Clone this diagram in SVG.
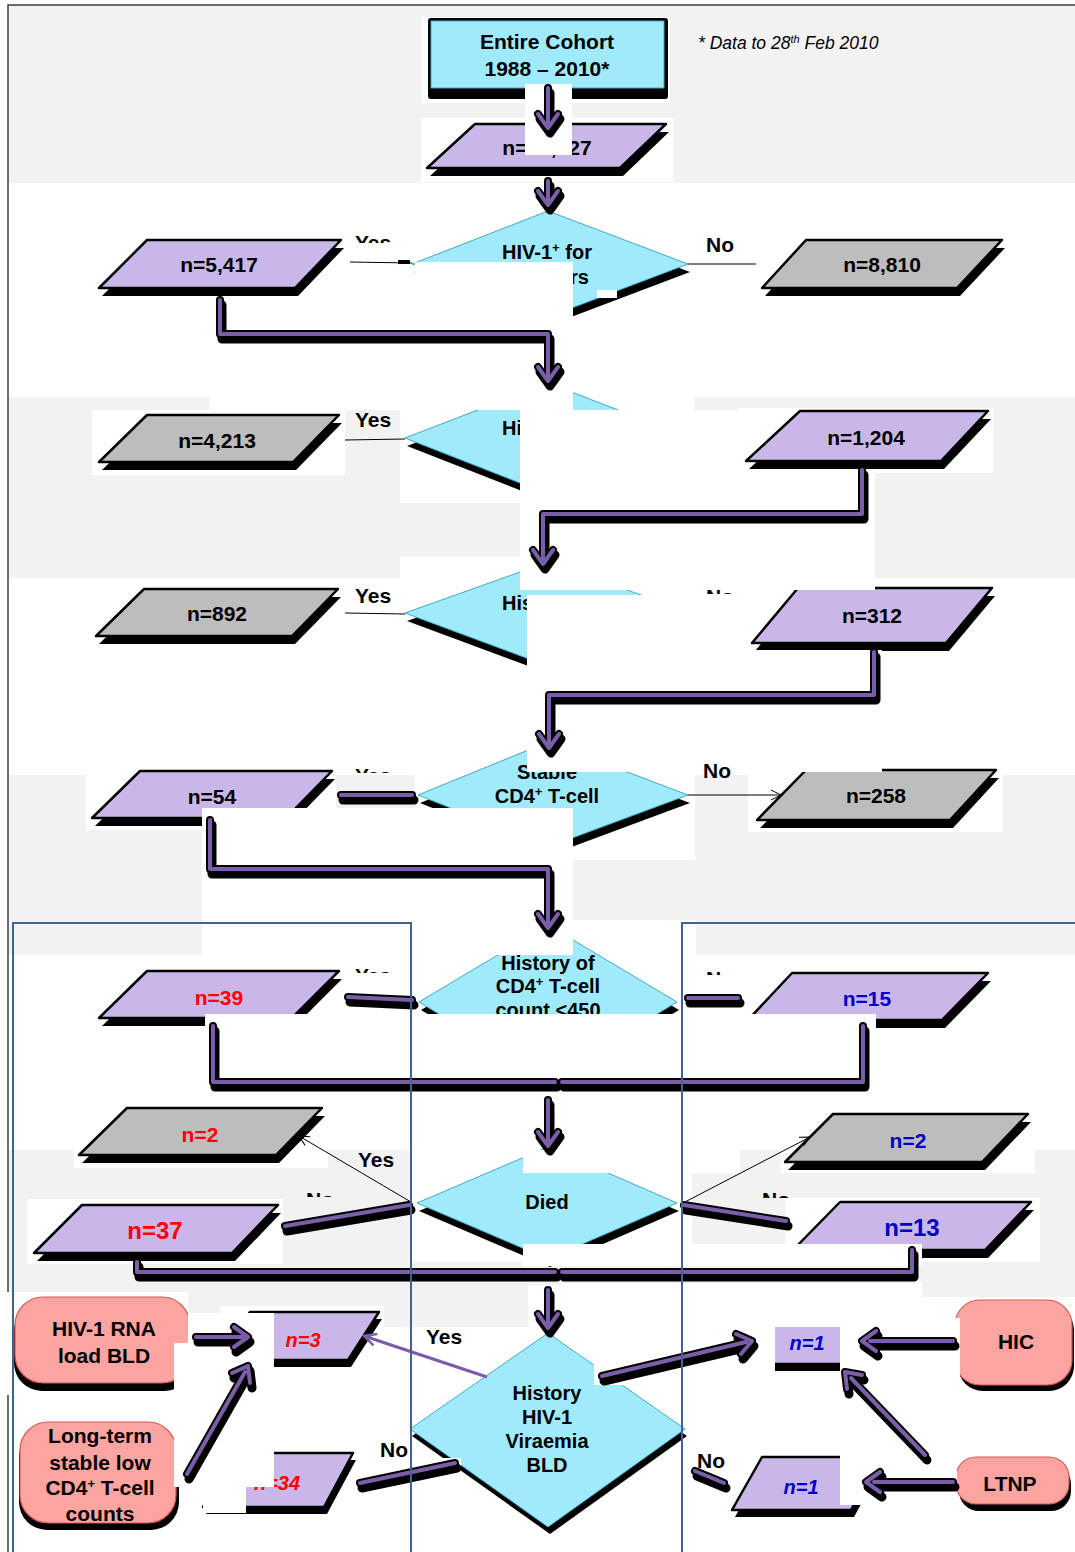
<svg xmlns="http://www.w3.org/2000/svg" width="1075" height="1552" viewBox="0 0 1075 1552">
<defs>
<style>
.band{fill:#f2f2f2}
.plate{fill:#fff}
.sh{fill:#000}
.cy{fill:#9feafb;stroke:#45a9c6;stroke-width:1}
.lav{fill:#c8b7e8;stroke:#000;stroke-width:2.5;stroke-linejoin:round}
.gr{fill:#bdbdbd;stroke:#000;stroke-width:2.5;stroke-linejoin:round}
.pk{fill:#fca4a0;stroke:#d65a55;stroke-width:1.2}
text{font-family:"Liberation Sans",Arial,Helvetica,sans-serif;font-weight:bold;font-size:21px;fill:#000}
.m{text-anchor:middle}
.d{font-size:20px}
.big{font-size:24px}
.it{font-style:italic;font-size:20px}
.red{fill:#ff0000}
.blu{fill:#0000c8}
.note{font-weight:normal;font-style:italic;font-size:17.5px}
.ks{fill:none;stroke:#000;stroke-width:9;stroke-linecap:round;stroke-linejoin:round}
.ko{fill:none;stroke:#000;stroke-width:8;stroke-linecap:round;stroke-linejoin:round}
.kc{fill:none;stroke:#7b5ea7;stroke-width:4;stroke-linecap:round;stroke-linejoin:round}
.thin{fill:none;stroke:#000;stroke-width:1}
.pthin{fill:none;stroke:#7b5ea7;stroke-width:3}
.frame{fill:none;stroke:#41638f;stroke-width:2}
.border{fill:none;stroke:#404040;stroke-width:1.5}
</style>
<marker id="ah" viewBox="0 0 12 12" refX="11" refY="6" markerWidth="12" markerHeight="12" markerUnits="userSpaceOnUse" orient="auto"><path d="M1,1 L11,6 L1,11" fill="none" stroke="#000" stroke-width="1"/></marker>
<marker id="ahp" viewBox="0 0 16 16" refX="14" refY="8" markerWidth="16" markerHeight="16" markerUnits="userSpaceOnUse" orient="auto"><path d="M2,2 L14,8 L2,14" fill="none" stroke="#7b5ea7" stroke-width="2.5"/></marker>
<!-- thick connector routes -->
<path id="pA1" d="M548,88 V126 M538,114 L548,128 L558,114"/>
<path id="pA2" d="M548,181 V203 M538,191 L548,205 L558,191"/>
<path id="pE1" d="M220,300 V334 H548 V379 M538,367 L548,381 L558,367"/>
<path id="pE2" d="M862,470 V514 H543 V558 M533,550 L543,564 L553,550"/>
<path id="pE3" d="M874,652 V695 H549 V742 M539,734 L549,748 L559,734"/>
<path id="pE4" d="M210,820 V869 H548 V922 M538,914 L548,928 L558,914"/>
<path id="pE5a" d="M213,1026 V1082 H555"/>
<path id="pE5b" d="M863,1026 V1082 H562"/>
<path id="pA3" d="M548,1100 V1140 M538,1132 L548,1146 L558,1132"/>
<path id="pE6a" d="M137,1262 V1272 H555"/>
<path id="pE6b" d="M912,1250 V1272 H562"/>
<path id="pA4" d="M548,1290 V1322 M538,1314 L548,1328 L558,1314"/>
<path id="pS1" d="M341,795 H412"/>
<path id="pS2" d="M348,997 L412,1000"/>
<path id="pS3" d="M688,998 H738"/>
<path id="pS4" d="M409,1205 L285,1226"/>
<path id="pS5" d="M684,1205 L786,1221"/>
<path id="pS6" d="M455,1463 L360,1483"/>
<path id="pS7" d="M695,1471 L724,1483"/>
<path id="pBa" d="M196,1337 H242 M234,1327 L248,1337 L234,1347"/>
<path id="pBb" d="M187,1474 L245,1372 M232,1373 L248,1366 L250,1383"/>
<path id="pBc" d="M602,1376 L746,1342 M736,1334 L752,1341 L741,1354"/>
<path id="pBd" d="M953,1341 H870 M876,1331 L862,1341 L876,1351"/>
<path id="pBe" d="M925,1455 L851,1378 M862,1375 L845,1372 L847,1389"/>
<path id="pBf" d="M953,1482 H874 M880,1472 L866,1482 L880,1492"/>
<clipPath id="k1"><rect x="340" y="220" width="80" height="23"/></clipPath>
<clipPath id="k2"><rect x="700" y="570" width="60" height="24"/></clipPath>
<clipPath id="k3"><rect x="340" y="750" width="80" height="23"/></clipPath>
<clipPath id="k4"><rect x="340" y="950" width="80" height="23"/></clipPath>
<clipPath id="k5"><rect x="700" y="950" width="60" height="25"/></clipPath>
<clipPath id="k6"><rect x="300" y="1180" width="60" height="17"/></clipPath>
<clipPath id="k7"><rect x="755" y="1180" width="60" height="18"/></clipPath>
</defs>

<!-- page -->
<rect x="0" y="0" width="1075" height="1552" fill="#fff"/>
<g id="bands">
<rect class="band" x="8" y="5" width="1067" height="178"/>
<rect class="band" x="8" y="397" width="1067" height="181"/>
<rect class="band" x="8" y="775" width="1067" height="180"/>
<rect class="band" x="8" y="1150" width="1067" height="177"/>
</g>
<path class="border" d="M8,1552 V5 H1075"/>

<!-- nodes -->
<g id="cohort">
<rect class="plate" x="422" y="17" width="248" height="86"/>
<rect class="sh" x="428" y="18" width="240" height="81" rx="3"/>
<rect class="cy" x="431" y="21" width="233" height="67"/>
<text class="m" x="547" y="49">Entire Cohort</text>
<text class="m" x="547" y="76">1988 – 2010*</text>
</g>
<text id="note" class="note" x="698" y="49">* Data to 28<tspan dy="-6" font-size="11">th</tspan><tspan dy="6"> Feb 2010</tspan></text>

<g id="n14227">
<rect class="plate" x="421" y="118" width="252" height="64"/>
<polygon class="sh" points="475,124 666,124 620,168 427,168" transform="translate(3,8)"/>
<polygon class="lav" points="475,124 666,124 620,168 427,168"/>
<text class="m" x="547" y="155">n=14,227</text>
</g>

<g id="hiv-years">
<polygon class="sh" points="548,211 688,264 548,317 412,264" transform="translate(2,8)"/>
<polygon class="cy" points="548,211 688,264 548,317 412,264"/>
<text class="m d" x="547" y="259">HIV-1<tspan dy="-7" font-size="13">+</tspan><tspan dy="7"> for</tspan></text>
<text class="d" x="570" y="284">rs</text>
</g>

<g id="n5417">
<polygon class="sh" points="147,240 341,240 295,288 99,288" transform="translate(3,8)"/>
<polygon class="lav" points="147,240 341,240 295,288 99,288"/>
<text class="m" x="219" y="272">n=5,417</text>
</g>
<g id="n8810">
<polygon class="sh" points="806,240 1002,240 957,288 762,288" transform="translate(3,8)"/>
<polygon class="gr" points="806,240 1002,240 957,288 762,288"/>
<text class="m" x="882" y="272">n=8,810</text>
</g>

<g id="hist-2">
<rect class="plate" x="400" y="380" width="295" height="123"/>
<polygon class="sh" points="548,383 691,438 548,494 405,438" transform="translate(2,8)"/>
<polygon class="cy" points="548,383 691,438 548,494 405,438"/>
<text class="d" x="502" y="435">Hi</text>
</g>
<g id="n4213">
<rect class="plate" x="92" y="410" width="253" height="65"/>
<polygon class="sh" points="147,415 339,415 293,462 99,462" transform="translate(3,8)"/>
<polygon class="gr" points="147,415 339,415 293,462 99,462"/>
<text class="m" x="217" y="448">n=4,213</text>
</g>
<g id="n1204">
<rect class="plate" x="739" y="408" width="254" height="65"/>
<polygon class="sh" points="800,411 988,411 941,461 746,461" transform="translate(3,8)"/>
<polygon class="lav" points="800,411 988,411 941,461 746,461"/>
<text class="m" x="866" y="445">n=1,204</text>
</g>

<g id="hist-3">
<rect class="plate" x="400" y="557" width="295" height="123"/>
<polygon class="sh" points="548,562 692,613 548,666 405,613" transform="translate(2,8)"/>
<polygon class="cy" points="548,562 692,613 548,666 405,613"/>
<text class="d" x="502" y="610">His</text>
</g>
<g id="n892">
<polygon class="sh" points="144,589 338,589 292,636 96,636" transform="translate(3,8)"/>
<polygon class="gr" points="144,589 338,589 292,636 96,636"/>
<text class="m" x="217" y="621">n=892</text>
</g>
<g id="n312">
<polygon class="sh" points="798,588 992,588 946,643 752,643" transform="translate(3,8)"/>
<polygon class="lav" points="798,588 992,588 946,643 752,643"/>
<text class="m" x="872" y="623">n=312</text>
</g>

<g id="stable">
<rect class="plate" x="415" y="740" width="280" height="120"/>
<polygon class="sh" points="548,742 688,795 548,847 418,795" transform="translate(2,8)"/>
<polygon class="cy" points="548,742 688,795 548,847 418,795"/>
<text class="m d" x="547" y="779">Stable</text>
<text class="m d" x="547" y="803">CD4<tspan dy="-7" font-size="13">+</tspan><tspan dy="7"> T-cell</tspan></text>
</g>
<g id="n54">
<rect class="plate" x="86" y="770" width="250" height="60"/>
<polygon class="sh" points="140,771 332,771 286,818 92,818" transform="translate(3,8)"/>
<polygon class="lav" points="140,771 332,771 286,818 92,818"/>
<text class="m" x="212" y="804">n=54</text>
</g>
<g id="n258">
<rect class="plate" x="748" y="763" width="255" height="69"/>
<polygon class="sh" points="806,770 996,770 950,820 757,820" transform="translate(3,8)"/>
<polygon class="gr" points="806,770 996,770 950,820 757,820"/>
<text class="m" x="876" y="803">n=258</text>
</g>

<g id="cd4-450">
<rect class="plate" x="415" y="920" width="281" height="165"/>
<polygon class="sh" points="548,925 677,1002 548,1080 419,1002" transform="translate(2,8)"/>
<polygon class="cy" points="548,925 677,1002 548,1080 419,1002"/>
<text class="m d" x="548" y="970">History of</text>
<text class="m d" x="548" y="993">CD4<tspan dy="-7" font-size="13">+</tspan><tspan dy="7"> T-cell</tspan></text>
<text class="m d" x="548" y="1017">count &lt;450</text>
</g>
<g id="n39">
<polygon class="sh" points="147,971 339,971 292,1018 99,1018" transform="translate(3,8)"/>
<polygon class="lav" points="147,971 339,971 292,1018 99,1018"/>
<text class="m red" x="219" y="1005">n=39</text>
</g>
<g id="n15">
<polygon class="sh" points="792,973 988,973 942,1020 748,1020" transform="translate(3,8)"/>
<polygon class="lav" points="792,973 988,973 942,1020 748,1020"/>
<text class="m blu" x="867" y="1006">n=15</text>
</g>

<g id="died">
<rect class="plate" x="411" y="1143" width="281" height="119"/>
<polygon class="sh" points="548,1147 677,1203 548,1259 417,1203" transform="translate(2,8)"/>
<polygon class="cy" points="548,1147 677,1203 548,1259 417,1203"/>
<text class="m d" x="547" y="1209">Died</text>
</g>
<g id="n2-left">
<rect class="plate" x="74" y="1104" width="254" height="64"/>
<polygon class="sh" points="127,1108 322,1108 276,1155 79,1155" transform="translate(3,8)"/>
<polygon class="gr" points="127,1108 322,1108 276,1155 79,1155"/>
<text class="m red" x="200" y="1142">n=2</text>
</g>
<g id="n2-right">
<rect class="plate" x="781" y="1110" width="254" height="63"/>
<polygon class="sh" points="833,1114 1028,1114 982,1162 785,1162" transform="translate(3,8)"/>
<polygon class="gr" points="833,1114 1028,1114 982,1162 785,1162"/>
<text class="m blu" x="908" y="1148">n=2</text>
</g>
<g id="n37">
<rect class="plate" x="27" y="1199" width="256" height="65"/>
<polygon class="sh" points="82,1205 278,1205 232,1253 34,1253" transform="translate(3,8)"/>
<polygon class="lav" points="82,1205 278,1205 232,1253 34,1253"/>
<text class="m big red" x="155" y="1239">n=37</text>
</g>
<g id="n13">
<rect class="plate" x="785" y="1198" width="255" height="64"/>
<polygon class="sh" points="840,1202 1031,1202 985,1250 793,1250" transform="translate(3,8)"/>
<polygon class="lav" points="840,1202 1031,1202 985,1250 793,1250"/>
<text class="m big blu" x="912" y="1236">n=13</text>
</g>

<g id="viraemia">
<polygon class="sh" points="548,1333 685,1429 548,1527 410,1429" transform="translate(2,7)"/>
<polygon class="cy" points="548,1333 685,1429 548,1527 410,1429" stroke="#000" stroke-width="1.5"/>
<text class="m d" x="547" y="1400">History</text>
<text class="m d" x="547" y="1424">HIV-1</text>
<text class="m d" x="547" y="1448">Viraemia</text>
<text class="m d" x="547" y="1472">BLD</text>
</g>
<g id="rna-bld">
<rect class="plate" x="0" y="1292" width="188" height="103"/>
<rect class="sh" x="14" y="1303" width="179" height="88" rx="28"/>
<rect class="pk" x="15" y="1297" width="175" height="86" rx="28"/>
<text class="m" x="104" y="1336">HIV-1 RNA</text>
<text class="m" x="104" y="1363">load BLD</text>
</g>
<g id="cd4-low">
<rect class="sh" x="19" y="1429" width="160" height="101" rx="28"/>
<rect class="pk" x="20" y="1422" width="156" height="101" rx="28"/>
<text class="m" x="100" y="1443">Long-term</text>
<text class="m" x="100" y="1470">stable low</text>
<text class="m" x="100" y="1495">CD4<tspan dy="-7" font-size="13">+</tspan><tspan dy="7"> T-cell</tspan></text>
<text class="m" x="100" y="1521">counts</text>
</g>
<g id="n3">
<rect class="plate" x="220" y="1306" width="164" height="66"/>
<polygon class="sh" points="250,1312 379,1312 348,1360 219,1360" transform="translate(3,7)"/>
<polygon class="lav" points="250,1312 379,1312 348,1360 219,1360"/>
<text class="m it red" x="303" y="1347">n=3</text>
</g>
<g id="n34">
<polygon class="sh" points="232,1453 353,1453 324,1507 203,1507" transform="translate(3,7)"/>
<polygon class="lav" points="232,1453 353,1453 324,1507 203,1507"/>
<text class="m it red" x="277" y="1490">n=34</text>
</g>
<g id="n1-top">
<polygon class="sh" points="762,1316 890,1316 860,1364 732,1364" transform="translate(3,7)"/>
<polygon class="lav" points="762,1316 890,1316 860,1364 732,1364"/>
<text class="m it blu" x="807" y="1350">n=1</text>
</g>
<g id="n1-bottom">
<polygon class="sh" points="762,1457 880,1457 851,1510 732,1510" transform="translate(3,7)"/>
<polygon class="lav" points="762,1457 880,1457 851,1510 732,1510"/>
<text class="m it blu" x="801" y="1494">n=1</text>
</g>
<g id="hic">
<rect class="plate" x="922" y="1297" width="153" height="95"/>
<rect class="sh" x="958" y="1305" width="116" height="86" rx="25"/>
<rect class="pk" x="955" y="1300" width="117" height="85" rx="25"/>
<text class="m" x="1016" y="1349">HIC</text>
</g>
<g id="ltnp">
<rect class="sh" x="959" y="1464" width="112" height="47" rx="20"/>
<rect class="pk" x="956" y="1457" width="113" height="47" rx="20"/>
<text class="m" x="1010" y="1491">LTNP</text>
</g>

<!-- blank areas laid over parts of the shapes -->
<g id="occluders" class="plate">
<rect x="415" y="262" width="158" height="56"/>
<rect x="597" y="290" width="20" height="8"/>
<rect x="520" y="410" width="220" height="60"/>
<rect x="527" y="595" width="223" height="73"/>
<rect x="523" y="1150" width="217" height="23"/>
<rect x="523" y="1244" width="399" height="22"/>
<rect x="560" y="1283" width="362" height="44"/>
<rect x="203" y="1487" width="43" height="26"/>
</g>

<g id="connectors">
<g class="plate">
<rect x="525" y="84" width="47" height="71"/>
<rect x="209" y="297" width="364" height="113"/>
<rect x="520" y="470" width="355" height="120"/>
<rect x="527" y="650" width="355" height="122"/>
<rect x="202" y="808" width="371" height="147"/>
<rect x="205" y="1014" width="671" height="84"/>
<rect x="528" y="1285" width="44" height="45"/>
<rect x="188" y="1313" width="86" height="57"/>
<rect x="174" y="1343" width="100" height="144"/>
<rect x="594" y="1318" width="181" height="67"/>
<rect x="840" y="1318" width="120" height="62"/>
<rect x="840" y="1365" width="95" height="93"/>
<rect x="840" y="1458" width="117" height="47"/>
<rect x="358" y="1458" width="103" height="32"/>
</g>
<g id="thick-shadow" transform="translate(2,5)">
<use href="#pA1" class="ks"/><use href="#pA2" class="ks"/><use href="#pE1" class="ks"/><use href="#pE2" class="ks"/>
<use href="#pE3" class="ks"/><use href="#pE4" class="ks"/><use href="#pE5a" class="ks"/><use href="#pE5b" class="ks"/>
<use href="#pA3" class="ks"/><use href="#pE6a" class="ks"/><use href="#pE6b" class="ks"/><use href="#pA4" class="ks"/>
<use href="#pS1" class="ks"/><use href="#pS2" class="ks"/><use href="#pS3" class="ks"/><use href="#pS4" class="ks"/>
<use href="#pS5" class="ks"/><use href="#pS6" class="ks"/><use href="#pS7" class="ks"/>
<use href="#pBa" class="ks"/><use href="#pBb" class="ks"/><use href="#pBc" class="ks"/><use href="#pBd" class="ks"/>
<use href="#pBe" class="ks"/><use href="#pBf" class="ks"/>
</g>
<g id="thick-outline">
<use href="#pA1" class="ko"/><use href="#pA2" class="ko"/><use href="#pE1" class="ko"/><use href="#pE2" class="ko"/>
<use href="#pE3" class="ko"/><use href="#pE4" class="ko"/><use href="#pE5a" class="ko"/><use href="#pE5b" class="ko"/>
<use href="#pA3" class="ko"/><use href="#pE6a" class="ko"/><use href="#pE6b" class="ko"/><use href="#pA4" class="ko"/>
<use href="#pS1" class="ko"/><use href="#pS2" class="ko"/><use href="#pS3" class="ko"/><use href="#pS4" class="ko"/>
<use href="#pS5" class="ko"/><use href="#pS6" class="ko"/><use href="#pS7" class="ko"/>
<use href="#pBa" class="ko"/><use href="#pBb" class="ko"/><use href="#pBc" class="ko"/><use href="#pBd" class="ko"/>
<use href="#pBe" class="ko"/><use href="#pBf" class="ko"/>
</g>
<g id="thick-core">
<use href="#pA1" class="kc"/><use href="#pA2" class="kc"/><use href="#pE1" class="kc"/><use href="#pE2" class="kc"/>
<use href="#pE3" class="kc"/><use href="#pE4" class="kc"/><use href="#pE5a" class="kc"/><use href="#pE5b" class="kc"/>
<use href="#pA3" class="kc"/><use href="#pE6a" class="kc"/><use href="#pE6b" class="kc"/><use href="#pA4" class="kc"/>
<use href="#pS1" class="kc"/><use href="#pS2" class="kc"/><use href="#pS3" class="kc"/><use href="#pS4" class="kc"/>
<use href="#pS5" class="kc"/><use href="#pS6" class="kc"/><use href="#pS7" class="kc"/>
<use href="#pBa" class="kc"/><use href="#pBb" class="kc"/><use href="#pBc" class="kc"/><use href="#pBd" class="kc"/>
<use href="#pBe" class="kc"/><use href="#pBf" class="kc"/>
</g>
<g id="thin-lines">
<path class="thin" d="M350,262 L412,263"/>
<path d="M398,262 H410" stroke="#000" stroke-width="4"/>
<path class="thin" d="M688,264 L756,264"/>
<path class="thin" d="M345,440 L405,439"/>
<path class="thin" d="M345,613 L405,614"/>
<path class="thin" d="M688,795 L781,795" marker-end="url(#ah)"/>
<path class="thin" d="M411,1202 L299,1136" marker-end="url(#ah)"/>
<path class="thin" d="M683,1203 L810,1137" marker-end="url(#ah)"/>
<path class="pthin" d="M487,1377 L364,1336" marker-end="url(#ahp)"/>
</g>
<g id="labels">
<text x="355" y="250" clip-path="url(#k1)">Yes</text>
<text x="706" y="252">No</text>
<text x="355" y="427">Yes</text>
<text x="355" y="603">Yes</text>
<text x="706" y="604" clip-path="url(#k2)">No</text>
<text x="355" y="783" clip-path="url(#k3)">Yes</text>
<text x="703" y="778">No</text>
<text x="355" y="983" clip-path="url(#k4)">Yes</text>
<text x="706" y="986" clip-path="url(#k5)">No</text>
<text x="358" y="1167">Yes</text>
<text x="306" y="1207" clip-path="url(#k6)">No</text>
<text x="762" y="1207" clip-path="url(#k7)">No</text>
<text x="426" y="1344">Yes</text>
<text x="380" y="1457">No</text>
<text x="697" y="1468">No</text>
</g>
</g>

<!-- outlined groupings -->
<g id="frames">
<path class="frame" d="M13,1552 V923 H411 V1552"/>
<path class="frame" d="M682,1552 V923 H1075"/>
</g>
</svg>
